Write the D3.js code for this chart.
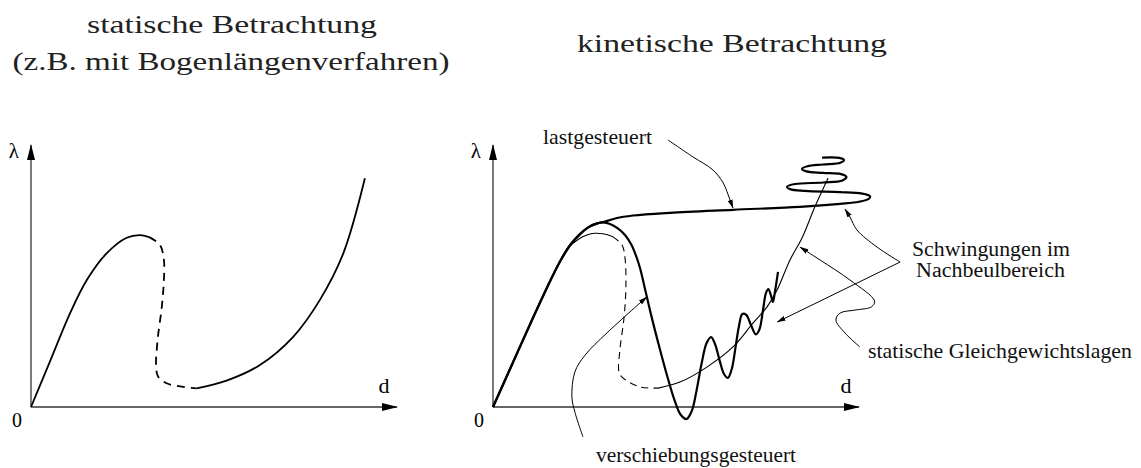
<!DOCTYPE html>
<html>
<head>
<meta charset="utf-8">
<script src="https://cdn.jsdelivr.net/npm/d3@7"></script>
<style>
  body { margin: 0; background: #fff; }
</style>
</head>
<body>
<svg id="chart" width="1141" height="468" font-family="'Liberation Serif', 'DejaVu Serif', serif"></svg>
<script>
// curves in (d, lambda) units, origin at 0/0
const leftStable1 = [[0,0],[6.3,15.1],[13,31.2],[18.6,42.3],[25.2,51.2],[31.9,56.4],[36.3,57.3],[39.4,56.6]];
const leftUnstable = [[39.4,56.6],[43,54],[44.3,49],[44.3,42.3],[43.6,33.4],[42.2,22.3],[41.7,13.4],[42.4,10.1],[45.2,7.9],[50.2,6.8],[55.2,6.2]];
const leftStable2 = [[55.2,6.2],[65.2,8.8],[76.3,14],[87.4,23.4],[96.3,35.7],[104.1,51.2],[111.3,76.2]];

const loadControlled = [[0,0],[6.5,14.5],[13,29],[19.3,42.5],[22.8,49.3],[26,54.3],[29,57.6],[32,60],[34.5,61.1],[36.7,61.6],[41,62.9],[46.7,63.8],[59,64.7],[80,65.7],[102.3,66.7],[115.7,67.7],[122,68.4],[125.3,69.4],[125.7,70.2],[123,71.1],[115.7,71.6],[104,72],[99,72.6],[98,73.4],[100.7,74.3],[110,74.8],[116.5,75.5],[117.8,76.7],[116,77.6],[110,78],[104.5,78.5],[103,79.3],[104.8,80.2],[110,80.8],[115.8,81.4],[117,82.3],[115.5,83],[109.7,83.1]];
const dispControlled = [[0,0],[6.5,14.5],[13,29],[19.3,42.5],[22.8,49.3],[26,54.3],[29,57.6],[32,60],[34.5,61.1],[36.7,61.5],[39,61],[41.5,59.6],[44,57.3],[46,54.3],[47.6,50.6],[49,46.3],[50.4,40.5],[52.7,30.7],[55.7,19],[58.3,9.5],[60.5,2.3],[62.5,-2.5],[64.5,-4],[66.3,-1.2],[67.8,5.2],[69.5,14.3],[71.2,21.3],[72.7,23.3],[74,21],[75.6,15.3],[77,11],[78.3,9.7],[79.6,12.7],[80.9,20.3],[82,27],[83.1,31],[84.4,30.7],[86,27.3],[87.6,24.2],[88.8,25.8],[90,32.3],[91,38],[91.8,39.3],[92.7,37],[93.3,35],[94,38.5],[95,45]];
const staticEq1 = [[19.3,42.5],[22,48],[25,53],[28.5,55.9],[31.3,57.3],[34,57.9],[36.7,57.7],[40,56.7]];
const staticEqUnstable = [[40,56.7],[43,54],[44,49.7],[44.3,40],[43.7,30],[42.3,19],[42,11.7],[43.3,9.7],[49,6.7],[55,6.3]];
const staticEq2 = [[55,6.3],[62.3,8.3],[71.3,13.3],[80,20],[86.7,28],[91.3,33.3],[94.7,39],[99,49],[103,56.3],[107.3,66.7],[111.7,76.3]];

// leader lines of the annotations
const leadLoad = [[58.3,89],[66.7,83.3],[73.3,79],[76.7,74.7],[79,69],[80,66.3]];
const leadOscUp = [[135.7,48.3],[128,53.3],[121.3,59],[119,63.3],[117.3,66]];
const leadOscDown = [[135.7,48.3],[94.7,28.3]];
const leadStatic = [[122.3,20],[117.3,24.7],[114.3,29],[115.7,31.3],[120.7,32.3],[126.2,33.4],[127.2,35.3],[119,42.3],[109,49],[102.3,53.3]];
const leadDisp = [[30,-10],[27.3,-1.7],[26.3,3.3],[27.3,11.7],[30.7,17.3],[38,24.7],[51.3,36.7]];

const axisLabels = { origin: "0", x: "d", y: "λ" };

const svg = d3.select("#chart");
const defs = svg.append("defs");

defs.append("marker")
  .attr("id", "axisHead")
  .attr("markerUnits", "userSpaceOnUse")
  .attr("viewBox", "0 0 16 8")
  .attr("markerWidth", 16).attr("markerHeight", 8)
  .attr("refX", 15).attr("refY", 4)
  .attr("orient", "auto")
  .append("path").attr("d", "M0,0L16,4L0,8Z").attr("fill", "#000");

defs.append("marker")
  .attr("id", "leadHead")
  .attr("markerUnits", "userSpaceOnUse")
  .attr("viewBox", "0 0 9 5")
  .attr("markerWidth", 9).attr("markerHeight", 5)
  .attr("refX", 8.5).attr("refY", 2.5)
  .attr("orient", "auto")
  .append("path").attr("d", "M0,0L9,2.5L0,5Z").attr("fill", "#000");

function panel(ox) {
  const x = d3.scaleLinear().domain([0, 122]).range([ox, ox + 366]);
  const y = d3.scaleLinear().domain([0, 87.3]).range([407, 145]);
  const g = svg.append("g");

  g.append("line")
    .attr("x1", x(0)).attr("y1", y(0)).attr("x2", x(0)).attr("y2", y(87.3))
    .attr("stroke", "#333").attr("stroke-width", 1.3)
    .attr("marker-end", "url(#axisHead)");
  g.append("line")
    .attr("x1", x(0)).attr("y1", y(0)).attr("x2", x(122)).attr("y2", y(0))
    .attr("stroke", "#333").attr("stroke-width", 1.3)
    .attr("marker-end", "url(#axisHead)");

  g.append("text").attr("x", x(0) - 14).attr("y", y(0) + 20)
    .attr("text-anchor", "middle").attr("font-size", 20).text(axisLabels.origin);
  g.append("text").attr("x", x(117.7)).attr("y", y(4.7))
    .attr("text-anchor", "middle").attr("font-size", 22).text(axisLabels.x);
  g.append("text").attr("x", x(-5.7)).attr("y", y(83))
    .attr("text-anchor", "middle").attr("font-size", 21).text(axisLabels.y);

  const line = d3.line()
    .x(d => x(d[0])).y(d => y(d[1]))
    .curve(d3.curveCatmullRom.alpha(0.5));

  return { x, y, g, line };
}

function curve(p, data, width, dash, marker) {
  const path = p.g.append("path")
    .attr("d", p.line(data))
    .attr("fill", "none")
    .attr("stroke", "#000")
    .attr("stroke-width", width)
    .attr("stroke-linejoin", "round")
    .attr("stroke-linecap", "butt");
  if (dash) path.attr("stroke-dasharray", dash);
  if (marker) path.attr("marker-end", marker);
  return path;
}

// left panel: static view
const left = panel(31);
curve(left, leftStable1, 1.8);
curve(left, leftUnstable, 1.8, "8,6");
curve(left, leftStable2, 1.8);

// right panel: kinetic view
const right = panel(493);
curve(right, staticEq1, 1.1);
curve(right, staticEqUnstable, 1.1, "7,5");
curve(right, staticEq2, 1.1);
curve(right, loadControlled, 2.2);
curve(right, dispControlled, 2.2);

curve(right, leadLoad, 1, null, "url(#leadHead)");
curve(right, leadOscUp, 1, null, "url(#leadHead)");
curve(right, leadOscDown, 1, null, "url(#leadHead)");
curve(right, leadStatic, 1, null, "url(#leadHead)");
curve(right, leadDisp, 1, null, "url(#leadHead)");

// annotation texts
const notes = [
  { text: "lastgesteuert", x: 543, y: 144, anchor: "start", size: 22, w: 109 },
  { text: "Schwingungen im", x: 912, y: 256, anchor: "start", size: 20, w: 158 },
  { text: "Nachbeulbereich", x: 916, y: 277, anchor: "start", size: 20, w: 149 },
  { text: "statische Gleichgewichtslagen", x: 868, y: 358, anchor: "start", size: 22, w: 264 },
  { text: "verschiebungsgesteuert", x: 596, y: 462, anchor: "start", size: 22, w: 200 }
];
svg.append("g").selectAll("text")
  .data(notes)
  .join("text")
  .attr("x", d => d.x).attr("y", d => d.y)
  .attr("text-anchor", d => d.anchor)
  .attr("font-size", d => d.size)
  .attr("textLength", d => d.w)
  .attr("lengthAdjust", "spacingAndGlyphs")
  .attr("fill", "#111")
  .text(d => d.text);

// titles
const titles = [
  { text: "statische Betrachtung", x: 232, y: 33, w: 290 },
  { text: "(z.B. mit Bogenlängenverfahren)", x: 231, y: 70, w: 437 },
  { text: "kinetische Betrachtung", x: 732, y: 52, w: 310 }
];
svg.append("g").selectAll("text")
  .data(titles)
  .join("text")
  .attr("x", d => d.x - d.w / 2).attr("y", d => d.y)
  .attr("font-size", 25)
  .attr("textLength", d => d.w)
  .attr("lengthAdjust", "spacingAndGlyphs")
  .attr("fill", "#222")
  .text(d => d.text);
</script>
</body>
</html>
